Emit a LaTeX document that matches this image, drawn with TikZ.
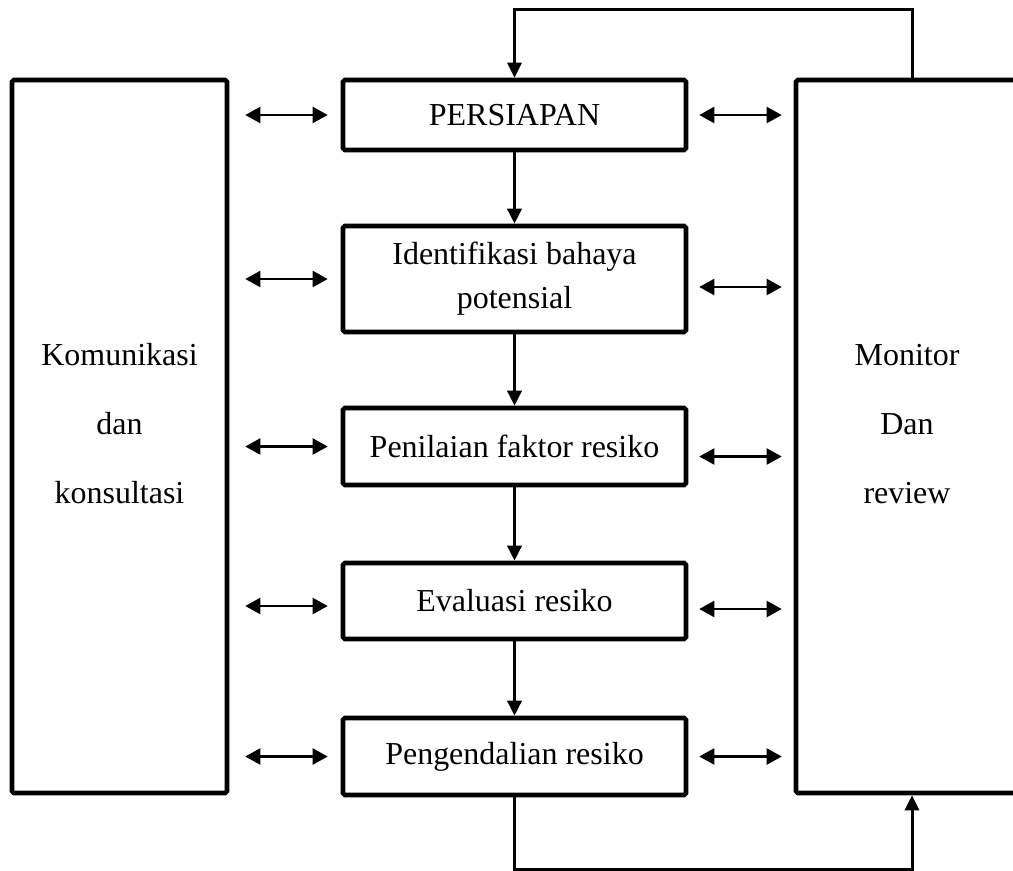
\documentclass[tikz,border=0pt]{standalone}
\usepackage{fontspec}
\setmainfont{Liberation Serif}
\usepackage{tikz}
\usetikzlibrary{arrows.meta,calc,positioning}

\begin{document}
\begin{tikzpicture}[
          side/.style={draw, line width=2.6pt, rounded corners=1pt, minimum width=4.3cm, minimum height=14.26cm, align=center, inner sep=0pt, font=\fontsize{18.2}{39.3}\selectfont, text depth=0.52cm},
          stage/.style={draw, line width=2.6pt, rounded corners=1pt, minimum width=6.86cm, align=center, inner sep=0pt, font=\fontsize{18.2}{25}\selectfont},
          flow/.style={-{Triangle[length=0.3cm,width=0.28cm]}, line width=2pt},
          feedback/.style={flow, line width=1.7pt},
          dblarrow/.style={{Triangle[length=0.3cm,width=0.32cm]}-{Triangle[length=0.3cm,width=0.32cm]}, line width=1.2pt}
        ]
          \useasboundingbox (0,0) rectangle (20.26,-17.4);
          \node[side] (komunikasi) at (2.39,-8.73) {Komunikasi\\dan\\konsultasi};
          \node[side, minimum width=4.44cm] (monitor) at (18.14,-8.73) {Monitor\\Dan\\review};
          \node[stage, minimum height=1.4cm] (persiapan) at (10.29,-2.3) {PERSIAPAN};
          \node[stage, minimum height=2.12cm] (identifikasi) at (10.29,-5.58) {Identifikasi bahaya\\potensial};
          \node[stage, minimum height=1.54cm] (penilaian) at (10.29,-8.93) {Penilaian faktor resiko};
          \node[stage, minimum height=1.52cm] (evaluasi) at (10.29,-12.02) {Evaluasi resiko};
          \node[stage, minimum height=1.54cm] (pengendalian) at (10.29,-15.13) {Pengendalian resiko};
          \draw[flow] (persiapan) -- (identifikasi);
          \draw[flow] (identifikasi) -- (penilaian);
          \draw[flow] (penilaian) -- (evaluasi);
          \draw[flow] (evaluasi) -- (pengendalian);
          % left side
          \draw[dblarrow, shorten <=0.32cm, shorten >=0.26cm] (komunikasi.east |- persiapan.west) -- (persiapan.west);
          \draw[dblarrow, shorten <=0.32cm, shorten >=0.26cm] (komunikasi.east |- identifikasi.west) -- (identifikasi.west);
          \draw[dblarrow, shorten <=0.32cm, shorten >=0.26cm] (komunikasi.east |- penilaian.west) -- (penilaian.west);
          \draw[dblarrow, shorten <=0.32cm, shorten >=0.26cm] ($(komunikasi.east |- evaluasi.west)+(0,-0.1)$) -- ($(evaluasi.west)+(0,-0.1)$);
          \draw[dblarrow, shorten <=0.32cm, shorten >=0.26cm] (komunikasi.east |- pengendalian.west) -- (pengendalian.west);
          % right side
          \draw[dblarrow, shorten <=0.22cm, shorten >=0.24cm] (persiapan.east) -- (persiapan.east -| monitor.west);
          \draw[dblarrow, shorten <=0.22cm, shorten >=0.24cm] ($(identifikasi.east)+(0,-0.16)$) -- ($(identifikasi.east -| monitor.west)+(0,-0.16)$);
          \draw[dblarrow, shorten <=0.22cm, shorten >=0.24cm] ($(penilaian.east)+(0,-0.2)$) -- ($(penilaian.east -| monitor.west)+(0,-0.2)$);
          \draw[dblarrow, shorten <=0.22cm, shorten >=0.24cm] ($(evaluasi.east)+(0,-0.16)$) -- ($(evaluasi.east -| monitor.west)+(0,-0.16)$);
          \draw[dblarrow, shorten <=0.22cm, shorten >=0.24cm] (pengendalian.east) -- (pengendalian.east -| monitor.west);
          % feedback
          \draw[feedback] ([xshift=0.1cm]monitor.north) -- ++(0,1.36) -| (persiapan.north);
          \draw[feedback] (pengendalian.south) -- ++(0,-1.44) -| ([xshift=0.1cm]monitor.south);
        \end{tikzpicture}
\end{document}
